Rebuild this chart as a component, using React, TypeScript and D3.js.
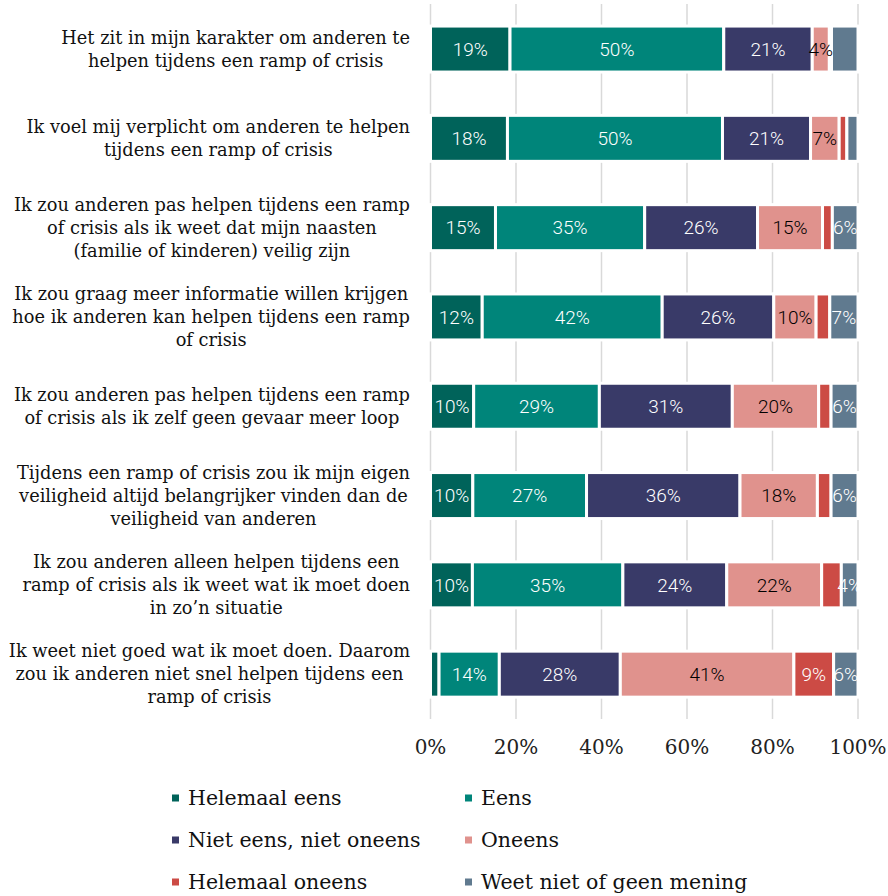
import React, { useEffect, useRef } from 'react';
import * as d3 from 'd3';

const categories: string[][] = [
  ['Het zit in mijn karakter om anderen te', 'helpen tijdens een ramp of crisis'],
  ['Ik voel mij verplicht om anderen te helpen', 'tijdens een ramp of crisis'],
  ['Ik zou anderen pas helpen tijdens een ramp', 'of crisis als ik weet dat mijn naasten', '(familie of kinderen) veilig zijn'],
  ['Ik zou graag meer informatie willen krijgen', 'hoe ik anderen kan helpen tijdens een ramp', 'of crisis'],
  ['Ik zou anderen pas helpen tijdens een ramp', 'of crisis als ik zelf geen gevaar meer loop'],
  ['Tijdens een ramp of crisis zou ik mijn eigen', 'veiligheid altijd belangrijker vinden dan de', 'veiligheid van anderen'],
  ['Ik zou anderen alleen helpen tijdens een', 'ramp of crisis als ik weet wat ik moet doen', 'in zo\u2019n situatie'],
  ['Ik weet niet goed wat ik moet doen. Daarom', 'zou ik anderen niet snel helpen tijdens een', 'ramp of crisis'],
];

const seriesNames = [
  'Helemaal eens',
  'Eens',
  'Niet eens, niet oneens',
  'Oneens',
  'Helemaal oneens',
  'Weet niet of geen mening',
];
const seriesColors = ['#00635a', '#00857a', '#393a68', '#e0928d', '#cc4b45', '#607a8f'];
const labelColors = ['#fff', '#fff', '#fff', '#000', '#fff', '#fff'];
const minLabel = [3, 3, 3, 3, 5, 3.5];

const helemaalEens = [18.6, 18.0, 15.2, 12.1, 10.1, 9.9, 9.8, 2.0];
const eens = [50.0, 50.3, 34.9, 42.1, 29.4, 26.6, 35.2, 14.1];
const nietEensNietOneens = [20.7, 20.6, 26.4, 26.1, 31.1, 35.9, 24.3, 28.3];
const oneens = [4.0, 6.7, 15.2, 9.9, 20.2, 18.1, 22.2, 40.6];
const helemaalOneens = [0.5, 1.8, 2.3, 3.2, 2.9, 3.2, 4.6, 9.3];
const weetNiet = [6.2, 2.6, 6.0, 6.6, 6.3, 6.3, 3.9, 5.7];

const xTicks = [0, 20, 40, 60, 80, 100];

const W = 888;
const H = 896;
const serif = '"DejaVu Serif", serif';

export default function App() {
  const svgRef = useRef<SVGSVGElement>(null);

  useEffect(() => {
    if (!svgRef.current) return;
    const svg = d3.select(svgRef.current);
    svg.selectAll('*').remove();

    const allSeries = [helemaalEens, eens, nietEensNietOneens, oneens, helemaalOneens, weetNiet];
    const rows = categories.map((_, i) => allSeries.map(s => s[i]));

    const x = d3.scaleLinear().domain([0, 100]).range([430.5, 858]);
    const y = d3.scaleBand<number>()
      .domain(d3.range(categories.length))
      .range([4.4, 718.8])
      .paddingInner(0.485)
      .paddingOuter(0.2425);

    svg.append('defs').append('clipPath').attr('id', 'plotclip')
      .append('rect')
      .attr('x', x(0)).attr('y', 0)
      .attr('width', x(100) - x(0)).attr('height', 720);

    // gridlines
    svg.append('g')
      .selectAll('line')
      .data(xTicks.slice(1))
      .join('line')
      .attr('x1', d => x(d)).attr('x2', d => x(d))
      .attr('y1', 4).attr('y2', 719)
      .attr('stroke', '#d9d9d9').attr('stroke-width', 1.5);

    svg.append('line')
      .attr('x1', x(0)).attr('x2', x(0))
      .attr('y1', 4).attr('y2', 719)
      .attr('stroke', '#d9d9d9').attr('stroke-width', 1.5);

    // bars
    const barG = svg.append('g');
    const labelG = svg.append('g').attr('clip-path', 'url(#plotclip)');
    rows.forEach((vals, i) => {
      let acc = 0;
      let lastRight = -Infinity;
      vals.forEach((v, k) => {
        const x0 = x(acc);
        const x1 = x(acc + v);
        acc += v;
        barG.append('rect')
          .attr('x', x0).attr('y', y(i)!)
          .attr('width', Math.max(0, x1 - x0)).attr('height', y.bandwidth())
          .attr('fill', seriesColors[k])
          .attr('stroke', '#fff').attr('stroke-width', 3);
        if (v >= minLabel[k]) {
          const cx = (x0 + x1) / 2;
          const t = labelG.append('text')
            .attr('x', cx).attr('y', y(i)! + y.bandwidth() / 2)
            .attr('text-anchor', 'middle').attr('dy', '0.35em')
            .attr('font-family', 'Roboto, sans-serif').attr('font-size', 19)
            .attr('font-weight', 300)
            .attr('fill', labelColors[k])
            .text(`${Math.round(v)}%`);
          const w = (t.node() as SVGTextElement).getComputedTextLength();
          if (cx - w / 2 < lastRight + 1) {
            t.remove();
          } else {
            lastRight = cx + w / 2;
          }
        }
      });
    });

    // category labels
    const catG = svg.append('g');
    categories.forEach((lines, i) => {
      const cy = y(i)! + y.bandwidth() / 2;
      const lh = 23;
      const g = catG.append('g');
      const texts = lines.map((ln, j) =>
        g.append('text')
          .attr('y', cy + (j - (lines.length - 1) / 2) * lh)
          .attr('dy', '0.35em')
          .attr('text-anchor', 'middle')
          .attr('font-family', serif).attr('font-size', 17.8)
          .attr('fill', '#111')
          .text(ln)
      );
      const maxW = d3.max(texts, t => (t.node() as SVGTextElement).getComputedTextLength()) || 0;
      texts.forEach(t => t.attr('x', 410 - maxW / 2));
    });

    // x axis labels
    svg.append('g')
      .selectAll('text')
      .data(xTicks)
      .join('text')
      .attr('x', d => x(d)).attr('y', 747).attr('dy', '0.35em')
      .attr('text-anchor', 'middle')
      .attr('font-family', serif).attr('font-size', 20)
      .attr('fill', '#222')
      .text(d => `${d}%`);

    // legend
    const legG = svg.append('g');
    seriesNames.forEach((name, k) => {
      const col = k % 2;
      const row = Math.floor(k / 2);
      const lx = col === 0 ? 172 : 465;
      const ly = 798 + row * 42;
      legG.append('rect')
        .attr('x', lx).attr('y', ly - 3.5)
        .attr('width', 7).attr('height', 7)
        .attr('fill', seriesColors[k]);
      legG.append('text')
        .attr('x', lx + 16).attr('y', ly).attr('dy', '0.35em')
        .attr('font-family', serif).attr('font-size', 20.5)
        .attr('fill', '#111')
        .text(name);
    });
  }, []);

  return (
    <svg
      ref={svgRef}
      width={W}
      height={H}
      style={{ position: 'absolute', left: 0, top: 0, background: '#fff' }}
    />
  );
}
